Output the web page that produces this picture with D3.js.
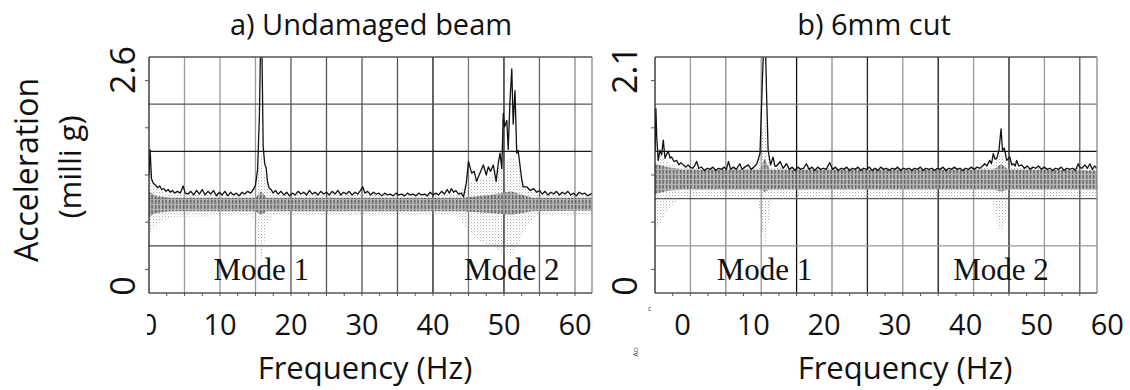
<!DOCTYPE html>
<html>
<head>
<meta charset="utf-8">
<script src="https://cdn.jsdelivr.net/npm/d3@7"></script>
<style>
  body { margin: 0; background: #fff; }
  svg { display: block; }
</style>
</head>
<body>
<script>
// ---- data ----
var titles = ['a) Undamaged beam', 'b) 6mm cut'];
var xTicks = [0, 10, 20, 30, 40, 50, 60];
var yMaxA = 2.6, yMaxB = 2.1;
var modeNames = ['Mode 1', 'Mode 2'];
var modesA = [15.8, 51.1];
var modesB = [11.6, 45.0];

// peak-hold envelope, [Hz, milli g]
var envA = [
  [0,1.30],[0.15,1.58],[0.35,1.26],[0.6,1.21],[0.9,1.19],[1.2,1.16],[1.5,1.18],[1.8,1.14],[2.1,1.15],[2.4,1.12],
  [2.7,1.14],[3.0,1.11],[3.3,1.13],[3.6,1.10],[4.0,1.12],[4.4,1.10],[4.8,1.18],[5.1,1.10],[5.5,1.09],[5.9,1.12],
  [6.3,1.08],[6.7,1.13],[7.1,1.09],[7.5,1.14],[7.9,1.08],[8.3,1.12],[8.7,1.09],[9.1,1.13],[9.5,1.07],[9.9,1.11],
  [10.3,1.08],[10.7,1.12],[11.1,1.07],[11.5,1.11],[11.9,1.08],[12.3,1.10],[12.7,1.07],[13.1,1.11],[13.5,1.09],[13.9,1.12],
  [14.3,1.10],[14.7,1.14],[15.0,1.19],[15.3,1.36],[15.55,1.95],[15.72,2.75],[15.9,2.75],[16.08,1.62],[16.3,1.42],[16.5,1.38],
  [16.7,1.22],[16.9,1.16],[17.2,1.14],[17.5,1.10],[17.8,1.13],[18.2,1.09],[18.6,1.12],[19.0,1.08],[19.4,1.11],[19.8,1.07],
  [20.2,1.10],[20.6,1.08],[21.0,1.12],[21.4,1.09],[21.8,1.11],[22.2,1.08],[22.6,1.13],[23.0,1.09],[23.4,1.11],[23.8,1.08],
  [24.2,1.12],[24.6,1.09],[25.0,1.11],[25.4,1.08],[25.8,1.12],[26.2,1.09],[26.6,1.13],[27.0,1.08],[27.4,1.11],[27.8,1.09],
  [28.2,1.12],[28.6,1.08],[29.0,1.11],[29.4,1.09],[29.8,1.13],[30.1,1.17],[30.4,1.10],[30.8,1.12],[31.2,1.08],[31.6,1.11],
  [32.0,1.09],[32.4,1.10],[32.8,1.07],[33.2,1.10],[33.6,1.08],[34.0,1.09],[34.4,1.07],[34.8,1.10],[35.2,1.08],[35.6,1.09],
  [36.0,1.07],[36.4,1.10],[36.8,1.08],[37.2,1.09],[37.6,1.07],[38.0,1.10],[38.4,1.08],[38.8,1.09],[39.2,1.07],[39.6,1.11],
  [40.0,1.08],[40.4,1.10],[40.8,1.08],[41.2,1.12],[41.6,1.09],[42.0,1.14],[42.3,1.10],[42.6,1.15],[42.9,1.11],[43.2,1.13],
  [43.6,1.09],[44.0,1.10],[44.3,1.06],[44.7,1.21],[45.0,1.45],[45.45,1.32],[45.8,1.34],[46.15,1.23],[46.6,1.32],[47.1,1.41],
  [47.5,1.30],[47.8,1.39],[48.1,1.34],[48.5,1.41],[48.9,1.23],[49.2,1.43],[49.45,1.54],[49.7,1.37],[49.9,1.98],[50.1,1.83],
  [50.4,1.90],[50.6,1.58],[50.85,2.12],[51.1,2.47],[51.3,1.86],[51.55,2.23],[51.8,1.54],[52.0,1.57],[52.25,1.41],[52.5,1.25],
  [52.7,1.17],[53.2,1.17],[53.7,1.13],[54.2,1.15],[54.6,1.11],[55.0,1.13],[55.4,1.09],[55.8,1.12],[56.2,1.08],[56.6,1.11],
  [57.0,1.09],[57.4,1.12],[57.8,1.08],[58.2,1.11],[58.6,1.09],[59.0,1.12],[59.4,1.08],[59.8,1.10],[60.2,1.07],[60.6,1.11],
  [61.0,1.09],[61.4,1.10],[61.8,1.07],[62.4,1.10]
];
var envB = [
  [-3.88,1.25],[-3.75,1.64],[-3.64,1.39],[-3.42,1.18],[-3.18,1.27],[-2.94,1.23],[-2.71,1.36],[-2.47,1.20],[-2.2,1.24],[-2.0,1.26],
  [-1.75,1.20],[-1.53,1.21],[-1.2,1.17],[-0.82,1.18],[-0.5,1.14],[-0.2,1.16],[0.12,1.14],[0.5,1.12],[0.8,1.14],[1.06,1.12],
  [1.4,1.11],[1.7,1.13],[2.0,1.17],[2.3,1.11],[2.7,1.12],[3.1,1.09],[3.5,1.11],[3.9,1.10],[4.3,1.12],[4.7,1.09],
  [5.1,1.11],[5.5,1.10],[5.9,1.12],[6.2,1.10],[6.5,1.17],[6.8,1.10],[7.2,1.12],[7.6,1.10],[8.1,1.15],[8.4,1.10],
  [8.8,1.12],[9.3,1.14],[9.7,1.10],[10.1,1.12],[10.5,1.15],[10.95,1.24],[11.27,1.87],[11.5,2.25],[11.7,2.25],[11.9,1.72],
  [12.1,1.27],[12.45,1.14],[12.8,1.21],[13.05,1.13],[13.3,1.13],[13.8,1.17],[14.2,1.11],[14.7,1.15],[15.1,1.10],[15.5,1.12],
  [15.9,1.09],[16.3,1.12],[16.7,1.10],[17.1,1.11],[17.5,1.15],[17.9,1.10],[18.3,1.12],[18.7,1.09],[19.1,1.12],[19.5,1.10],
  [19.9,1.11],[20.3,1.10],[20.8,1.16],[21.2,1.10],[21.6,1.12],[22.0,1.09],[22.4,1.11],[22.8,1.10],[23.2,1.12],[23.6,1.09],
  [24.0,1.11],[24.4,1.10],[24.8,1.12],[25.2,1.09],[25.6,1.11],[26.0,1.10],[26.4,1.12],[26.8,1.09],[27.2,1.11],[27.6,1.09],
  [28.0,1.12],[28.4,1.10],[28.8,1.11],[29.2,1.09],[29.6,1.11],[30.0,1.10],[30.4,1.12],[30.8,1.09],[31.2,1.11],[31.6,1.10],
  [32.0,1.11],[32.4,1.09],[32.8,1.11],[33.2,1.10],[33.6,1.12],[34.0,1.09],[34.4,1.11],[34.8,1.10],[35.2,1.11],[35.6,1.09],
  [36.0,1.11],[36.4,1.10],[36.8,1.12],[37.2,1.09],[37.6,1.11],[38.0,1.10],[38.4,1.12],[38.8,1.10],[39.2,1.11],[39.6,1.09],
  [40.0,1.11],[40.4,1.10],[40.8,1.12],[41.2,1.10],[41.6,1.12],[42.0,1.11],[42.4,1.13],[42.7,1.15],[43.0,1.13],[43.4,1.18],
  [43.65,1.15],[43.9,1.24],[44.15,1.19],[44.4,1.20],[44.7,1.27],[45.0,1.46],[45.2,1.27],[45.45,1.29],[45.8,1.18],[46.25,1.21],
  [46.5,1.14],[46.7,1.15],[47.0,1.13],[47.2,1.18],[47.5,1.13],[47.9,1.14],[48.3,1.11],[48.7,1.13],[49.1,1.10],[49.5,1.12],
  [49.9,1.11],[50.3,1.13],[50.7,1.10],[51.1,1.12],[51.5,1.10],[51.9,1.11],[52.3,1.09],[52.7,1.11],[53.1,1.10],[53.5,1.12],
  [53.9,1.09],[54.3,1.11],[54.7,1.10],[55.1,1.11],[55.5,1.09],[55.9,1.15],[56.1,1.12],[56.4,1.11],[56.85,1.14],[57.2,1.11],
  [57.55,1.15],[57.9,1.10],[58.2,1.13],[58.55,1.11]
];

// dense band of the individual averages, [Hz, top, bottom]
var denseA = [
  [0,1.12,0.84],[1,1.07,0.88],[3,1.05,0.90],[15,1.05,0.90],[15.8,1.12,0.86],[16.6,1.05,0.90],
  [44,1.05,0.90],[48,1.08,0.88],[51,1.12,0.86],[54,1.05,0.90],[62.4,1.05,0.91]
];
var denseB = [
  [-3.88,1.15,0.88],[-2,1.12,0.91],[0,1.10,0.92],[11,1.10,0.92],[11.6,1.20,0.90],[12.3,1.10,0.92],
  [44,1.10,0.92],[45,1.15,0.90],[46,1.10,0.92],[58.55,1.09,0.92]
];
// sparse scatter of the averages, [Hz, top, bottom]
var sparseA = [
  [0,1.50,0.62],[0.5,1.20,0.70],[1.5,1.12,0.78],[3,1.09,0.84],[14.5,1.09,0.85],[15.2,1.20,0.70],[15.6,1.45,0.45],
  [15.8,1.55,0.35],[16.1,1.40,0.45],[16.6,1.18,0.75],[17.5,1.09,0.85],[43.5,1.09,0.85],[44.5,1.18,0.72],[46,1.25,0.60],
  [48,1.28,0.52],[49.5,1.40,0.45],[51,1.50,0.40],[52,1.42,0.52],[53,1.18,0.72],[54.5,1.09,0.85],[62.4,1.09,0.86]
];
var sparseB = [
  [-3.88,1.35,0.55],[-3.3,1.25,0.60],[-2,1.15,0.75],[-0.5,1.12,0.84],[1,1.11,0.86],[10.6,1.11,0.86],[11.2,1.35,0.60],
  [11.6,1.60,0.40],[12.0,1.35,0.55],[12.6,1.12,0.84],[43.5,1.12,0.84],[44.5,1.20,0.65],[45.0,1.25,0.52],[45.6,1.18,0.65],
  [46.5,1.12,0.84],[58.55,1.11,0.86]
];

// ---- layout ----
var W = 1130, H = 390;
var plotTop = 57, plotBottom = 293;

var panels = [
  { title: titles[0], yMax: yMaxA, hz: [0, 62.4], x0: 149, x1: 592, env: envA, dense: denseA, sparse: sparseA,
    modes: modesA, titleX: 371, xTitleX: 365, yLabelX: 135,
    vGrid: ['#9a9a9a','#9a9a9a','#9a9a9a','#555','#555','#555','#555','#111','#777','#111','#666','#888'],
    hGrid: ['#444','#333','#1a1a1a','#555'] },
  { title: titles[1], yMax: yMaxB, hz: [-3.88, 58.55], x0: 655, x1: 1097, env: envB, dense: denseB, sparse: sparseB,
    modes: modesB, titleX: 874, xTitleX: 905, yLabelX: 637,
    vGrid: ['#9a9a9a','#8a8a8a','#9a9a9a','#111','#888','#222','#999','#111','#999','#111','#999','#555'],
    hGrid: ['#999','#555','#111','#777'] }
];

var svg = d3.select('body').append('svg').attr('width', W).attr('height', H);
var defs = svg.append('defs');

// stippled fill for the light scatter
var dots = defs.append('pattern').attr('id', 'dots')
  .attr('patternUnits', 'userSpaceOnUse').attr('width', 3).attr('height', 3);
dots.append('rect').attr('x', 0).attr('y', 0).attr('width', 0.9).attr('height', 0.9).attr('fill', '#8a8a8a');
dots.append('rect').attr('x', 1.5).attr('y', 1.5).attr('width', 0.8).attr('height', 0.8).attr('fill', '#b0b0b0');

// comb-like streaks of the dense band
var streaks = defs.append('pattern').attr('id', 'streaks')
  .attr('patternUnits', 'userSpaceOnUse').attr('width', 3.5).attr('height', 5);
streaks.append('rect').attr('width', 3.5).attr('height', 5).attr('fill', '#ababab');
streaks.append('rect').attr('x', 1).attr('y', 0).attr('width', 1.3).attr('height', 3.8).attr('fill', '#383838');

var font = "'Open Sans', 'DejaVu Sans', sans-serif";

panels.forEach(function(p, pi) {
  var x = d3.scaleLinear().domain(p.hz).range([p.x0, p.x1]);
  var y = d3.scaleLinear().domain([0, p.yMax]).range([plotBottom, plotTop]);
  var g = svg.append('g');

  defs.append('clipPath').attr('id', 'clip' + pi)
    .append('rect').attr('x', p.x0).attr('y', plotTop)
    .attr('width', p.x1 - p.x0).attr('height', plotBottom - plotTop);

  // grid
  var vLines = d3.range(p.hz[0] + 5, p.hz[1], 5);
  g.selectAll('line.vgrid').data(vLines).join('line')
    .attr('class', 'vgrid')
    .attr('x1', function(d) { return x(d); }).attr('x2', function(d) { return x(d); })
    .attr('y1', plotTop).attr('y2', plotBottom)
    .attr('stroke', function(d, i) { return p.vGrid[i]; })
    .attr('stroke-width', 1.3);

  var hLines = d3.range(1, 5).map(function(k) { return p.yMax * k / 5; });
  g.selectAll('line.hgrid').data(hLines).join('line')
    .attr('class', 'hgrid')
    .attr('x1', p.x0).attr('x2', p.x1)
    .attr('y1', function(d) { return y(d); }).attr('y2', function(d) { return y(d); })
    .attr('stroke', function(d, i) { return p.hGrid[i]; })
    .attr('stroke-width', 1.3);

  var data = g.append('g').attr('clip-path', 'url(#clip' + pi + ')');

  var band = d3.area()
    .x(function(d) { return x(d[0]); })
    .y0(function(d) { return y(d[2]); })
    .y1(function(d) { return y(d[1]); });

  data.append('path').datum(p.sparse)
    .attr('d', band).attr('fill', 'url(#dots)').attr('opacity', 0.85);
  data.append('path').datum(p.dense)
    .attr('d', band).attr('fill', 'url(#streaks)').attr('opacity', 0.85);

  var line = d3.line()
    .x(function(d) { return x(d[0]); })
    .y(function(d) { return y(d[1]); });
  data.append('path').datum(p.env)
    .attr('d', line).attr('fill', 'none')
    .attr('stroke', '#111').attr('stroke-width', 1.3).attr('stroke-linejoin', 'round');

  // frame
  g.append('line').attr('x1', p.x0).attr('x2', p.x1).attr('y1', plotTop).attr('y2', plotTop)
    .attr('stroke', '#555').attr('stroke-width', 1.3);
  g.append('line').attr('x1', p.x1).attr('x2', p.x1).attr('y1', plotTop).attr('y2', plotBottom)
    .attr('stroke', '#888').attr('stroke-width', 1.3);
  g.append('line').attr('x1', p.x0).attr('x2', p.x1).attr('y1', plotBottom).attr('y2', plotBottom)
    .attr('stroke', '#555').attr('stroke-width', 1.3);
  g.append('line').attr('x1', p.x0).attr('x2', p.x0).attr('y1', plotTop).attr('y2', plotBottom)
    .attr('stroke', '#222').attr('stroke-width', 1.3);

  // minor ticks
  g.selectAll('line.xminor').data(d3.range(p.hz[0] + 2.5, p.hz[1], 2.5)).join('line')
    .attr('class', 'xminor')
    .attr('x1', function(d) { return x(d); }).attr('x2', function(d) { return x(d); })
    .attr('y1', plotBottom).attr('y2', plotBottom + 3)
    .attr('stroke', '#555').attr('stroke-width', 1);
  g.selectAll('line.yminor').data(d3.range(0, 5).map(function(k) { return p.yMax * (k + 0.5) / 5; })).join('line')
    .attr('class', 'yminor')
    .attr('x1', p.x0 - 4).attr('x2', p.x0)
    .attr('y1', function(d) { return y(d); }).attr('y2', function(d) { return y(d); })
    .attr('stroke', '#555').attr('stroke-width', 1);

  // mode labels
  g.selectAll('text.mode').data(p.modes).join('text')
    .attr('class', 'mode')
    .attr('x', function(d) { return x(d); })
    .attr('y', plotBottom - 13)
    .attr('text-anchor', 'middle')
    .style('font-family', "'Liberation Serif', 'Times New Roman', serif")
    .style('font-size', '31px')
    .attr('fill', '#111')
    .text(function(d, i) { return modeNames[i]; });

  // x tick labels
  var tl = g.append('g');
  if (pi === 0) {
    defs.append('clipPath').attr('id', 'tickclip0')
      .append('rect').attr('x', p.x0 - 2).attr('y', 300).attr('width', 500).attr('height', 50);
    tl.attr('clip-path', 'url(#tickclip0)');
  }
  tl.selectAll('text').data(xTicks).join('text')
    .attr('x', function(d) { return x(d); })
    .attr('y', 335)
    .attr('text-anchor', 'middle')
    .style('font-family', font).style('font-size', '29px')
    .attr('fill', '#111')
    .text(function(d) { return d; });

  // y end labels, rotated
  var yEnds = [0, p.yMax];
  g.selectAll('text.ylab').data(yEnds).join('text')
    .attr('class', 'ylab')
    .attr('transform', function(d) {
      var yy = d === 0 ? y(d) - 7 : y(d) + 13;
      return 'translate(' + p.yLabelX + ',' + yy + ') rotate(-90)';
    })
    .attr('text-anchor', 'middle')
    .style('font-family', font).style('font-size', '34px')
    .attr('fill', '#111')
    .text(function(d) { return d === 0 ? '0' : d3.format('.1f')(d); });

  // titles
  svg.append('text')
    .attr('x', p.titleX).attr('y', 35)
    .attr('text-anchor', 'middle')
    .style('font-family', font).style('font-size', '29px')
    .attr('fill', '#111')
    .text(p.title);

  svg.append('text')
    .attr('x', p.xTitleX).attr('y', 379)
    .attr('text-anchor', 'middle')
    .style('font-family', font).style('font-size', '31px')
    .attr('fill', '#111')
    .text('Frequency (Hz)');
});

// shared y axis title
svg.append('text')
  .attr('transform', 'translate(38,170) rotate(-90)')
  .attr('text-anchor', 'middle')
  .style('font-family', font).style('font-size', '32px')
  .attr('fill', '#111')
  .text('Acceleration');
svg.append('text')
  .attr('transform', 'translate(81,167) rotate(-90)')
  .attr('text-anchor', 'middle')
  .style('font-family', font).style('font-size', '31px')
  .attr('fill', '#111')
  .text('(milli g)');

// scan leftovers next to panel b
svg.append('text')
  .attr('x', 648).attr('y', 311)
  .style('font-family', font).style('font-size', '7px')
  .attr('fill', '#444').text('c');
svg.append('text')
  .attr('transform', 'translate(638,352) rotate(-90)')
  .attr('text-anchor', 'middle')
  .style('font-family', font).style('font-size', '7px')
  .attr('fill', '#444').text('Acı');
</script>
</body>
</html>
